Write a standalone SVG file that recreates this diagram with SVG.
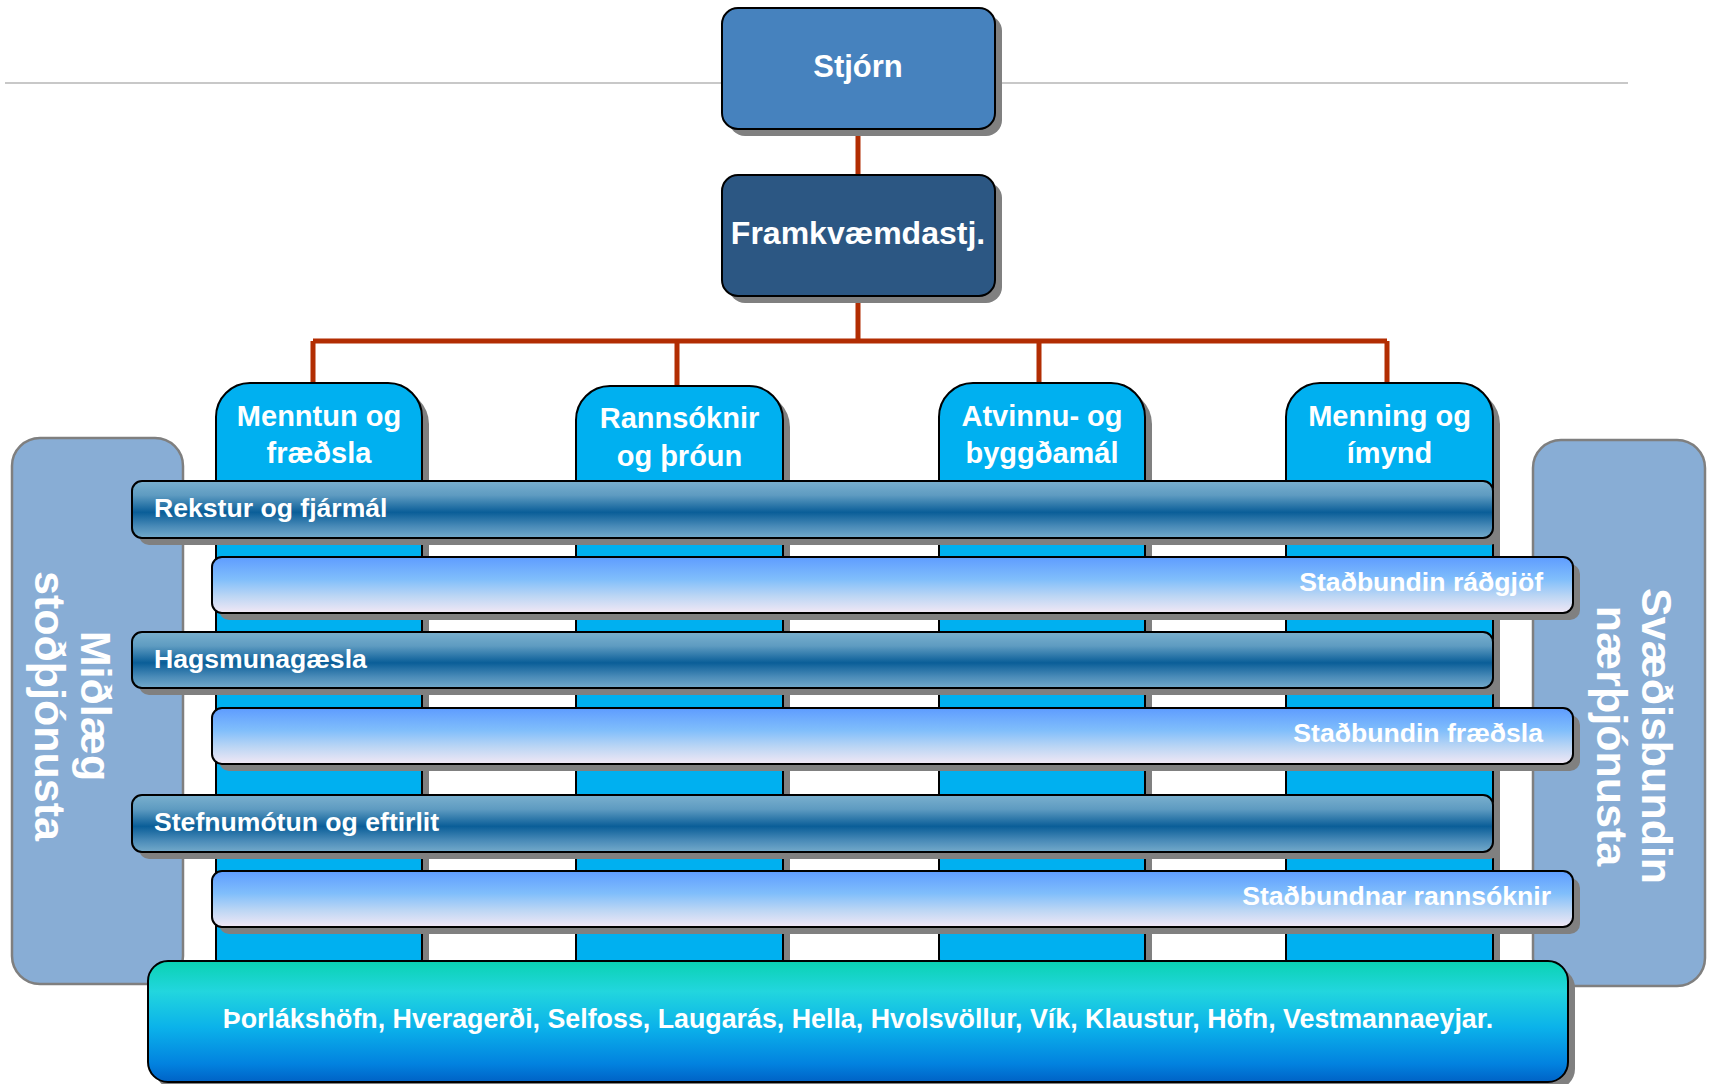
<svg xmlns="http://www.w3.org/2000/svg" width="1712" height="1084" viewBox="0 0 1712 1084">
<defs>
<linearGradient id="gDark" x1="0" y1="0" x2="0" y2="1">
<stop offset="0" stop-color="#7AB0CE"/>
<stop offset="0.25" stop-color="#5E9BC1"/>
<stop offset="0.55" stop-color="#0A5E98"/>
<stop offset="0.8" stop-color="#4A8BB8"/>
<stop offset="1" stop-color="#74AACA"/>
</linearGradient>
<linearGradient id="gLight" x1="0" y1="0" x2="0" y2="1">
<stop offset="0" stop-color="#5E9CFF"/>
<stop offset="0.4" stop-color="#80BEFB"/>
<stop offset="0.7" stop-color="#BCD6F4"/>
<stop offset="1" stop-color="#F2E8F5"/>
</linearGradient>
<linearGradient id="gBottom" x1="0" y1="0" x2="0" y2="1">
<stop offset="0" stop-color="#0AD2B2"/>
<stop offset="0.25" stop-color="#22D6DE"/>
<stop offset="0.55" stop-color="#0BB2EA"/>
<stop offset="0.85" stop-color="#0282DF"/>
<stop offset="1" stop-color="#0062C6"/>
</linearGradient>
</defs>
<style>
.sh{fill:#808080}
.bx{stroke:#000;stroke-width:2}
.col{fill:#00B0F0;stroke:#000;stroke-width:2}
.dark{fill:url(#gDark);stroke:#000;stroke-width:2}
.light{fill:url(#gLight);stroke:#000;stroke-width:2}
.side{fill:#88ADD5;stroke:#7F7F7F;stroke-width:2.5}
.t{font-family:"Liberation Sans",Arial,sans-serif;font-weight:bold;fill:#fff}
.hd{font-size:29px;text-anchor:middle}
.bt{font-size:26.6px}
.conn{stroke:#B22D02;stroke-width:5;fill:none}
</style>
<line x1="5" y1="83" x2="1628" y2="83" stroke="#C8C8C8" stroke-width="2"/>
<g id="side-left">
<rect class="side" x="12" y="438" width="171" height="546" rx="28"/>
<text class="t" font-size="43" text-anchor="middle" transform="translate(0,706) rotate(90)"><tspan x="0" y="-81">Miðlæg</tspan><tspan x="0" y="-35">stoðþjónusta</tspan></text>
</g>
<g id="side-right">
<rect class="side" x="1533" y="440" width="172" height="546" rx="28"/>
<text class="t" font-size="43" text-anchor="middle" transform="translate(0,736) rotate(90)"><tspan x="0" y="-1642">Svæðisbundin</tspan><tspan x="0" y="-1597">nærþjónusta</tspan></text>
</g>
<g id="connectors">
<path class="conn" d="M858,129 V175 M858,296 V341 M313,341 H1387 M313,341 V383 M677,341 V386 M1039,341 V383 M1387,341 V383"/>
</g>
<g id="stjorn">
<rect class="sh" x="729" y="15" width="273" height="121" rx="16"/>
<rect class="bx" fill="#4682BE" x="722" y="8" width="273" height="121" rx="16"/>
<text class="t" font-size="31" text-anchor="middle" x="858" y="77">Stjórn</text>
</g>
<g id="framkvaemdastj">
<rect class="sh" x="729" y="182" width="273" height="121" rx="16"/>
<rect class="bx" fill="#2C5783" x="722" y="175" width="273" height="121" rx="16"/>
<text class="t" font-size="32" text-anchor="middle" x="858" y="244">Framkvæmdastj.</text>
</g>
<g id="col-menntun">
<rect class="sh" x="223" y="390" width="206" height="610" rx="34"/>
<rect class="col" x="216" y="383" width="206" height="610" rx="34"/>
<text class="t hd" x="319" y="426">Menntun og</text>
<text class="t hd" x="319" y="463">fræðsla</text>
</g>
<g id="col-rannsoknir">
<rect class="sh" x="583" y="393" width="207" height="610" rx="34"/>
<rect class="col" x="576" y="386" width="207" height="610" rx="34"/>
<text class="t hd" x="679.5" y="428">Rannsóknir</text>
<text class="t hd" x="679.5" y="466">og þróun</text>
</g>
<g id="col-atvinnu">
<rect class="sh" x="946" y="390" width="206" height="610" rx="34"/>
<rect class="col" x="939" y="383" width="206" height="610" rx="34"/>
<text class="t hd" x="1042" y="426">Atvinnu- og</text>
<text class="t hd" x="1042" y="463">byggðamál</text>
</g>
<g id="col-menning">
<rect class="sh" x="1293" y="390" width="207" height="610" rx="34"/>
<rect class="col" x="1286" y="383" width="207" height="610" rx="34"/>
<text class="t hd" x="1389.5" y="426">Menning og</text>
<text class="t hd" x="1389.5" y="463">ímynd</text>
</g>
<g id="bar-rekstur">
<rect class="sh" x="139" y="488" width="1361" height="57" rx="10"/>
<rect class="dark" x="132" y="481" width="1361" height="57" rx="10"/>
<text class="t bt" x="154" y="517">Rekstur og fjármál</text>
</g>
<g id="bar-radgjof">
<rect class="sh" x="219" y="564" width="1361" height="56" rx="10"/>
<rect class="light" x="212" y="557" width="1361" height="56" rx="10"/>
<text class="t bt" x="1543" y="591" text-anchor="end">Staðbundin ráðgjöf</text>
</g>
<g id="bar-hagsmuna">
<rect class="sh" x="139" y="639" width="1361" height="56" rx="10"/>
<rect class="dark" x="132" y="632" width="1361" height="56" rx="10"/>
<text class="t bt" x="154" y="668">Hagsmunagæsla</text>
</g>
<g id="bar-fraedsla">
<rect class="sh" x="219" y="715" width="1361" height="56" rx="10"/>
<rect class="light" x="212" y="708" width="1361" height="56" rx="10"/>
<text class="t bt" x="1543" y="742" text-anchor="end">Staðbundin fræðsla</text>
</g>
<g id="bar-stefnu">
<rect class="sh" x="139" y="802" width="1361" height="57" rx="10"/>
<rect class="dark" x="132" y="795" width="1361" height="57" rx="10"/>
<text class="t bt" x="154" y="831">Stefnumótun og eftirlit</text>
</g>
<g id="bar-rannsoknir">
<rect class="sh" x="219" y="878" width="1361" height="56" rx="10"/>
<rect class="light" x="212" y="871" width="1361" height="56" rx="10"/>
<text class="t bt" x="1551" y="905" text-anchor="end">Staðbundnar rannsóknir</text>
</g>
<g id="bar-stadir">
<rect class="sh" x="155" y="968" width="1420" height="121" rx="20"/>
<rect fill="url(#gBottom)" stroke="#000" stroke-width="2" x="148" y="961" width="1420" height="121" rx="20"/>
<text class="t" font-size="26.8" x="858" y="1028" text-anchor="middle">Þorlákshöfn, Hveragerði, Selfoss, Laugarás, Hella, Hvolsvöllur, Vík, Klaustur, Höfn, Vestmannaeyjar.</text>
</g>
</svg>
